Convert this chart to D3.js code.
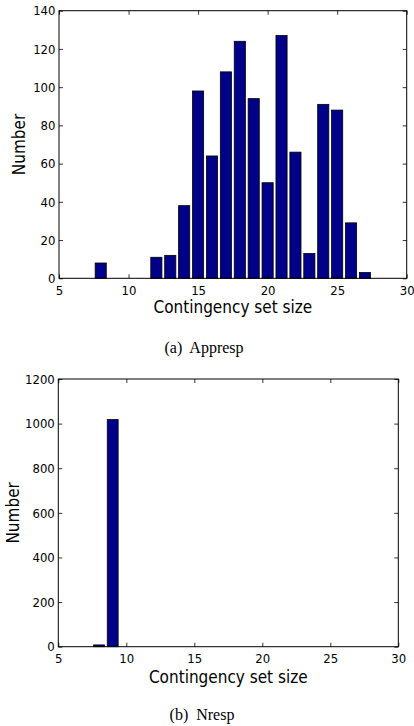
<!DOCTYPE html>
<html>
<head>
<meta charset="utf-8">
<script src="https://cdn.jsdelivr.net/npm/d3@7"></script>
<style>
  body { margin: 0; background: #fff; }
  svg text { fill: #000; }
  .tick text { font-family: "DejaVu Sans", sans-serif; font-stretch: condensed; font-size: 13px; }
  .axis-label { font-family: "DejaVu Sans", sans-serif; font-stretch: condensed; font-size: 17px; }
  .caption { font-family: "Liberation Serif", "Times New Roman", serif; font-size: 16px; }
</style>
</head>
<body>
<svg width="414" height="726"></svg>
<script>
const svg = d3.select("svg");

// (a) Appresp histogram
const appSizes = [7, 8, 9, 10, 11, 12, 13, 14, 15, 16, 17, 18, 19, 20, 21, 22, 23, 24, 25, 26, 27, 28];
const appCounts = [0, 8, 0, 0, 0, 11, 12, 38, 98, 64, 108, 124, 94, 50, 127, 66, 13, 91, 88, 29, 3, 0];
const appYTicks = [0, 20, 40, 60, 80, 100, 120, 140];

// (b) Nresp histogram
const nrespSizes = [8, 9];
const nrespCounts = [8, 1018];
const nrespYTicks = [0, 200, 400, 600, 800, 1000, 1200];

const xTicks = [5, 10, 15, 20, 25, 30];
const xLabel = "Contingency set size";
const yLabel = "Number";

const barColor = "#000088";
const fmt = d3.format("d");

function drawPanel(box, sizes, counts, yTicks, caption) {
    const { left, right, top, bottom } = box;
    const g = svg.append("g");

    const x = d3.scaleLinear().domain([5, 30]).range([left, right]);
    const y = d3.scaleLinear().domain([0, d3.max(yTicks)]).range([bottom, top]);
    const barW = x(5.8) - x(5);

    // bars
    g.selectAll(".bar")
        .data(sizes.map((s, i) => ({ size: s, count: counts[i] })))
        .enter().append("rect")
        .attr("class", "bar")
        .attr("x", d => x(d.size) - barW / 2)
        .attr("y", d => y(d.count))
        .attr("width", barW)
        .attr("height", d => y(0) - y(d.count))
        .attr("fill", barColor)
        .attr("stroke", "#000")
        .attr("stroke-width", 0.8);

    // axes, ticks pointing inward on all four sides
    const tick = 4;
    const bottomAxis = g.append("g")
        .attr("transform", `translate(0,${bottom})`)
        .call(d3.axisBottom(x).tickValues(xTicks).tickFormat(fmt).tickSizeInner(-tick).tickSizeOuter(0).tickPadding(7));
    const topAxis = g.append("g")
        .attr("transform", `translate(0,${top})`)
        .call(d3.axisTop(x).tickValues(xTicks).tickSizeInner(-tick).tickSizeOuter(0).tickFormat(""));
    const leftAxis = g.append("g")
        .attr("transform", `translate(${left},0)`)
        .call(d3.axisLeft(y).tickValues(yTicks).tickFormat(fmt).tickSizeInner(-tick).tickSizeOuter(0).tickPadding(3.5));
    const rightAxis = g.append("g")
        .attr("transform", `translate(${right},0)`)
        .call(d3.axisRight(y).tickValues(yTicks).tickSizeInner(-tick).tickSizeOuter(0).tickFormat(""));

    [bottomAxis, topAxis, leftAxis, rightAxis].forEach(a => {
        a.select(".domain").remove();
        a.selectAll("line").attr("stroke", "#000").attr("stroke-width", 0.8);
        a.attr("font-family", null).attr("font-size", null);
    });

    // frame
    g.append("rect")
        .attr("x", left)
        .attr("y", top)
        .attr("width", right - left)
        .attr("height", bottom - top)
        .attr("fill", "none")
        .attr("stroke", "#000")
        .attr("stroke-width", 1);

    // labels
    g.append("text")
        .attr("class", "axis-label")
        .attr("text-anchor", "middle")
        .attr("x", (left + right) / 2)
        .attr("y", bottom + box.xLabelDy)
        .text(xLabel);

    g.append("text")
        .attr("class", "axis-label")
        .attr("text-anchor", "middle")
        .attr("transform", `translate(${box.yLabelX},${(top + bottom) / 2}) rotate(-90)`)
        .text(yLabel);

    g.append("text")
        .attr("class", "caption")
        .attr("text-anchor", "middle")
        .attr("x", box.captionX)
        .attr("y", box.captionY)
        .style("white-space", "pre")
        .text(caption);
}

drawPanel({ left: 59, right: 406.7, top: 10.7, bottom: 278.3, xLabelDy: 35, yLabelX: 25, captionX: 204, captionY: 353 },
    appSizes, appCounts, appYTicks, "(a)  Appresp");

drawPanel({ left: 58.3, right: 398.3, top: 379, bottom: 646.7, xLabelDy: 36, yLabelX: 19.3, captionX: 202, captionY: 720 },
    nrespSizes, nrespCounts, nrespYTicks, "(b)  Nresp");
</script>
</body>
</html>
